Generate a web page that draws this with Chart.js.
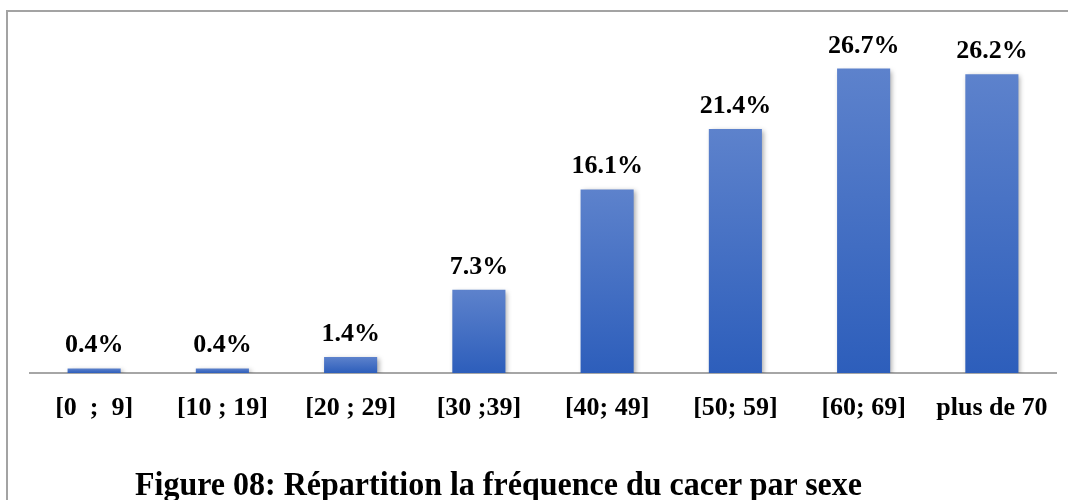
<!DOCTYPE html>
<html>
<head>
<meta charset="utf-8">
<script src="https://cdn.jsdelivr.net/npm/chart.js@4"></script>
<style>
  body { margin: 0; background: #fff; }
  #frame { position: absolute; left: 6px; top: 10px; width: 1070px; height: 500px;
           border-left: 2px solid #a3a3a3; border-top: 2px solid #a3a3a3; }
  #wrap { position: absolute; left: 0; top: 0; width: 1068px; height: 500px; }
  #caption { position: absolute; left: 135px; top: 468px; font-family: "Liberation Serif", serif;
             font-weight: bold; font-size: 32px; line-height: 32px; color: #000; white-space: nowrap;
             transform: scaleY(1.08); transform-origin: 0 27px; }
</style>
</head>
<body>
<div id="frame"></div>
<div id="wrap"><canvas id="chart"></canvas></div>
<div id="caption">Figure 08: Répartition la fréquence du cacer par sexe</div>
<script>
// Tranches d'âge et pourcentages
const ageGroups = ["[0  ;  9]", "[10 ; 19]", "[20 ; 29]", "[30 ;39]", "[40; 49]", "[50; 59]", "[60; 69]", "plus de 70"];
const percents = [0.4, 0.4, 1.4, 7.3, 16.1, 21.4, 26.7, 26.2];

// Gradient per bar, lighter at the top
function barGradient(ctx) {
  const chart = ctx.chart;
  if (!chart.chartArea || ctx.type !== "data") return "#4472c4";
  const y = chart.scales.y;
  const top = y.getPixelForValue(ctx.parsed.y);
  const bottom = y.getPixelForValue(0);
  if (!(bottom > top)) return "#4472c4";
  const g = chart.ctx.createLinearGradient(0, top, 0, bottom);
  g.addColorStop(0, "#5d82cc");
  g.addColorStop(1, "#2d5ebb");
  return g;
}

// Shadow behind bars + value labels above
const barLabels = {
  id: "barLabels",
  beforeDatasetsDraw(chart) {
    const c = chart.ctx;
    c.save();
    c.shadowColor = "rgba(0,0,0,0.35)";
    c.shadowBlur = 5;
    c.shadowOffsetX = 2;
    c.shadowOffsetY = 2;
  },
  afterDatasetsDraw(chart) {
    const c = chart.ctx;
    c.restore();
    c.save();
    c.font = "bold 26px 'Liberation Serif'";
    c.fillStyle = "#000";
    c.textAlign = "center";
    c.textBaseline = "alphabetic";
    chart.getDatasetMeta(0).data.forEach((bar, i) => {
      c.fillText(percents[i].toFixed(1) + "%", bar.x, bar.y - 16);
    });
    c.restore();
  }
};

new Chart("chart", {
  type: "bar",
  data: {
    labels: ageGroups,
    datasets: [{
      data: percents,
      backgroundColor: barGradient,
      borderWidth: 0,
      barPercentage: 0.6,
      categoryPercentage: 0.69
    }]
  },
  options: {
    responsive: true,
    maintainAspectRatio: false,
    animation: false,
    layout: { padding: { left: 30, right: 12, top: 31, bottom: 0 } },
    plugins: {
      legend: { display: false },
      tooltip: { enabled: false },
      title: { display: false }
    },
    scales: {
      x: {
        grid: { display: false },
        border: { display: true, color: "#a6a6a6", width: 2 },
        ticks: {
          color: "#000",
          padding: 12,
          maxRotation: 0,
          autoSkip: false,
          font: { family: "'Liberation Serif'", weight: "bold", size: 26 }
        },
        afterFit(scale) { scale.height = 127; }
      },
      y: {
        display: false,
        min: 0,
        max: 30
      }
    }
  },
  plugins: [barLabels]
});
</script>
</body>
</html>
